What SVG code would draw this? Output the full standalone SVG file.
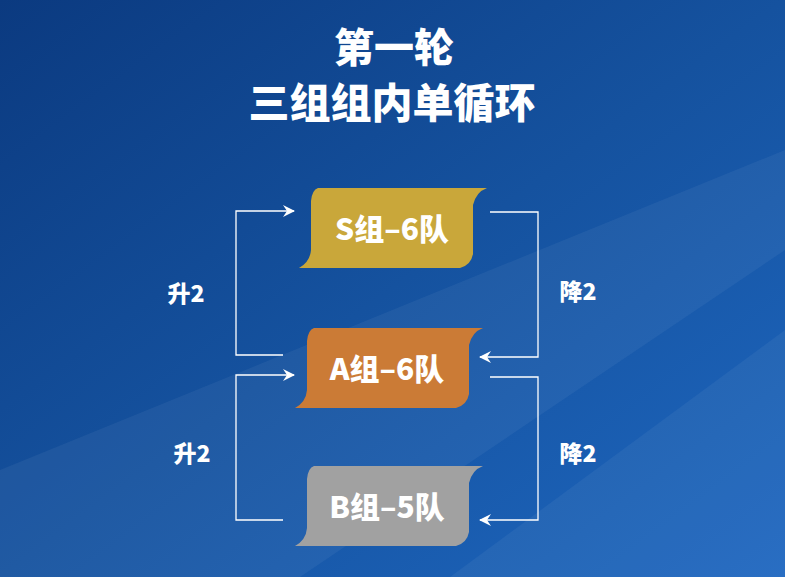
<svg xmlns="http://www.w3.org/2000/svg" width="785" height="577" viewBox="0 0 785 577">
<defs>
<linearGradient id="bg" x1="0" y1="0" x2="1" y2="1">
<stop offset="0" stop-color="#0b3a80"/><stop offset="0.5" stop-color="#15529f"/><stop offset="1" stop-color="#1e67c0"/>
</linearGradient>
<marker id="ah" viewBox="0 0 12 12" refX="11" refY="6" markerWidth="12" markerHeight="12" markerUnits="userSpaceOnUse" orient="auto"><path d="M0,0 L12,6 L0,12 L4,6 Z" fill="#fff"/></marker>
<style>
.t{font-family:"Noto Sans CJK SC","Liberation Sans",sans-serif;font-weight:900;fill:#fff;text-anchor:middle}
.c{fill:none;stroke:#fff;stroke-width:1.3}
</style>
</defs>
<rect width="785" height="577" fill="url(#bg)"/>
<polygon points="0,577 0,470 785,150 785,250 300,577" fill="#ffffff" opacity="0.05"/>
<polygon points="450,577 785,330 785,577" fill="#ffffff" opacity="0.05"/>
<text class="t" x="394" y="62" font-size="40">第一轮</text>
<text class="t" x="392" y="118" font-size="41">三组组内单循环</text>
<g id="S"><path d="M318,188 L487,188 Q476,192 473,205 L473,254 Q471,265 460,268 L299,268 Q310,262 311,250 L311,201 Q312,190 318,188 Z" fill="#c9a73a"/><text class="t" x="392" y="240" font-size="30">S组–6队</text></g>
<g id="A"><path d="M314,328 L483,328 Q472,332 469,345 L469,394 Q467,405 456,408 L295,408 Q306,402 307,390 L307,341 Q308,330 314,328 Z" fill="#cb7b36"/><text class="t" x="387" y="380" font-size="30">A组–6队</text></g>
<g id="B"><path d="M314,466 L483,466 Q472,470 469,483 L469,532 Q467,543 456,546 L295,546 Q306,540 307,528 L307,479 Q308,468 314,466 Z" fill="#a1a1a1"/><text class="t" x="387" y="518" font-size="30">B组–5队</text></g>
<g id="connectors">
<path class="c" d="M283,355 H236 V211 H294" marker-end="url(#ah)"/>
<path class="c" d="M490,212 H538 V357 H480" marker-end="url(#ah)"/>
<path class="c" d="M283,520 H236 V375 H294" marker-end="url(#ah)"/>
<path class="c" d="M490,377 H538 V520 H480" marker-end="url(#ah)"/>
</g>
<text class="t" x="186" y="302" font-size="23">升2</text>
<text class="t" x="578" y="300" font-size="23">降2</text>
<text class="t" x="192" y="462" font-size="23">升2</text>
<text class="t" x="578" y="462" font-size="23">降2</text>
</svg>
